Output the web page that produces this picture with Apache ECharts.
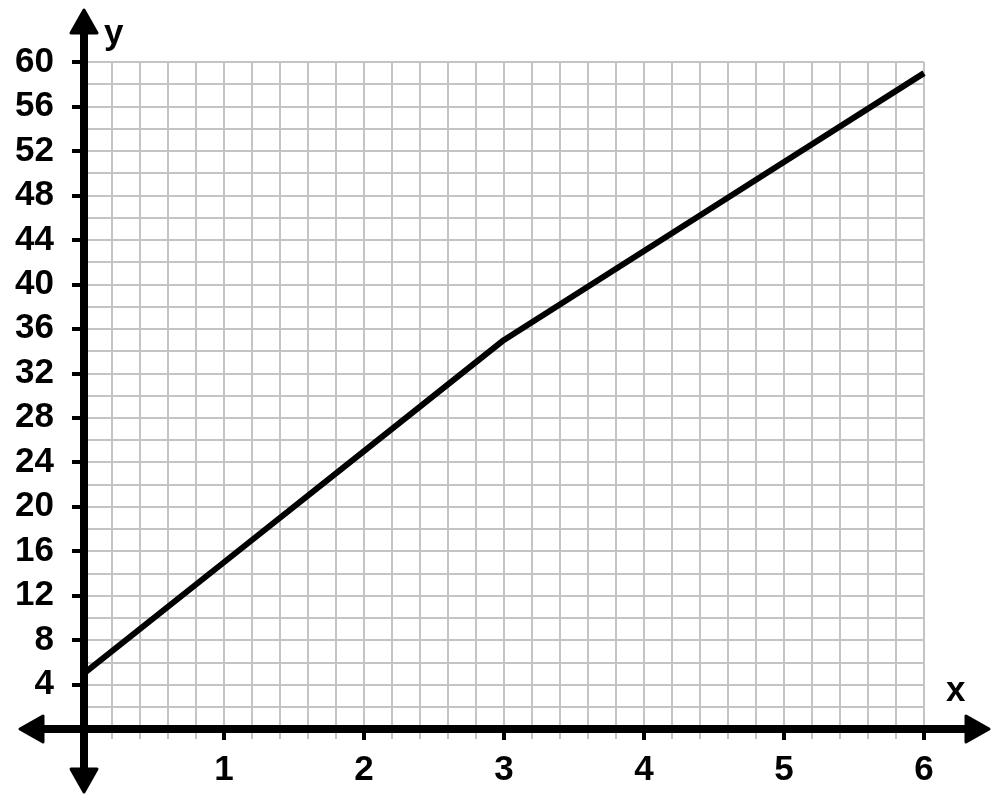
<!DOCTYPE html>
<html>
<head>
<meta charset="utf-8">
<script src="https://cdn.jsdelivr.net/npm/echarts@6/dist/echarts.min.js"></script>
<style>
  html, body { margin: 0; padding: 0; background: #fff; }
  #main { width: 1000px; height: 807px; }
</style>
</head>
<body>
<div id="main"></div>
<script>
// data
var xValues = [0, 1, 2, 3, 4, 5, 6];
var yValues = [5, 15, 25, 35, 43, 51, 59];
var xRange = [0, 6];
var yRange = [0, 60];
var xStep = 1;
var yStep = 4;

var font = '"Liberation Sans", Arial, sans-serif';
var grey = '#c4c4c4';
var chart = echarts.init(document.getElementById('main'));

var points = xValues.map(function (x, i) {
  return [x, yValues[i]];
});

function hideZero(v) {
  return v === 0 ? '' : String(v);
}

var labelStyle = {
  color: '#000',
  fontSize: 35,
  fontWeight: 'bold',
  fontFamily: font,
  formatter: hideZero
};

chart.setOption({
  animation: false,
  grid: { left: 84, right: 76, top: 62, bottom: 78, outerBoundsMode: 'none' },
  xAxis: {
    type: 'value',
    min: xRange[0],
    max: xRange[1],
    interval: xStep,
    axisLine: { show: false },
    axisTick: { show: true, length: 11, lineStyle: { color: '#000', width: 4 } },
    minorTick: { show: true, splitNumber: 5, length: 10, lineStyle: { color: grey, width: 2 } },
    splitLine: { show: true, lineStyle: { color: grey, width: 2 } },
    minorSplitLine: { show: true, lineStyle: { color: grey, width: 2 } },
    axisLabel: Object.assign({ margin: 24 }, labelStyle)
  },
  yAxis: {
    type: 'value',
    min: yRange[0],
    max: yRange[1],
    interval: yStep,
    axisLine: { show: false },
    axisTick: { show: true, length: 12, lineStyle: { color: '#000', width: 4 } },
    minorTick: { show: false, splitNumber: 2 },
    splitLine: { show: true, lineStyle: { color: grey, width: 2 } },
    minorSplitLine: { show: true, lineStyle: { color: grey, width: 2 } },
    // labels sit a little below their ticks in the original
    axisLabel: Object.assign({ margin: 30, padding: [8, 0, 0, 0] }, labelStyle)
  },
  series: [{
    type: 'line',
    data: points,
    symbol: 'none',
    lineStyle: { color: '#000', width: 6 },
    z: 3
  }]
});

// axes with arrows on both ends, placed from the grid's own scale
var o = chart.convertToPixel({ gridIndex: 0 }, [0, 0]);
var tr = chart.convertToPixel({ gridIndex: 0 }, [xRange[1], yRange[1]]);
var L = o[0] - 64, R = tr[0] + 65, T = tr[1] - 52, B = o[1] + 63;
var head = 23, half = 13;
var axisStyle = { stroke: '#000', lineWidth: 8, fill: null };
var arrowStyle = { fill: '#000', stroke: '#000', lineWidth: 3, lineJoin: 'round' };

chart.setOption({
  graphic: [
    { type: 'line', z: 50, shape: { x1: L + 5, y1: o[1], x2: R - 5, y2: o[1] }, style: axisStyle },
    { type: 'line', z: 50, shape: { x1: o[0], y1: T + 5, x2: o[0], y2: B - 5 }, style: axisStyle },
    { type: 'polygon', z: 51, shape: { points: [[R, o[1]], [R - head, o[1] - half], [R - head, o[1] + half]] }, style: arrowStyle },
    { type: 'polygon', z: 51, shape: { points: [[L, o[1]], [L + head, o[1] - half], [L + head, o[1] + half]] }, style: arrowStyle },
    { type: 'polygon', z: 51, shape: { points: [[o[0], T], [o[0] - half, T + head], [o[0] + half, T + head]] }, style: arrowStyle },
    { type: 'polygon', z: 51, shape: { points: [[o[0], B], [o[0] - half, B - head], [o[0] + half, B - head]] }, style: arrowStyle },
    { type: 'text', z: 52, x: o[0] + 20, y: tr[1] - 28,
      style: { text: 'y', fill: '#000', font: 'bold 35px ' + font, verticalAlign: 'middle', align: 'left' } },
    { type: 'text', z: 52, x: tr[0] + 22, y: o[1] - 38,
      style: { text: 'x', fill: '#000', font: 'bold 35px ' + font, verticalAlign: 'middle', align: 'left' } }
  ]
});
</script>
</body>
</html>
